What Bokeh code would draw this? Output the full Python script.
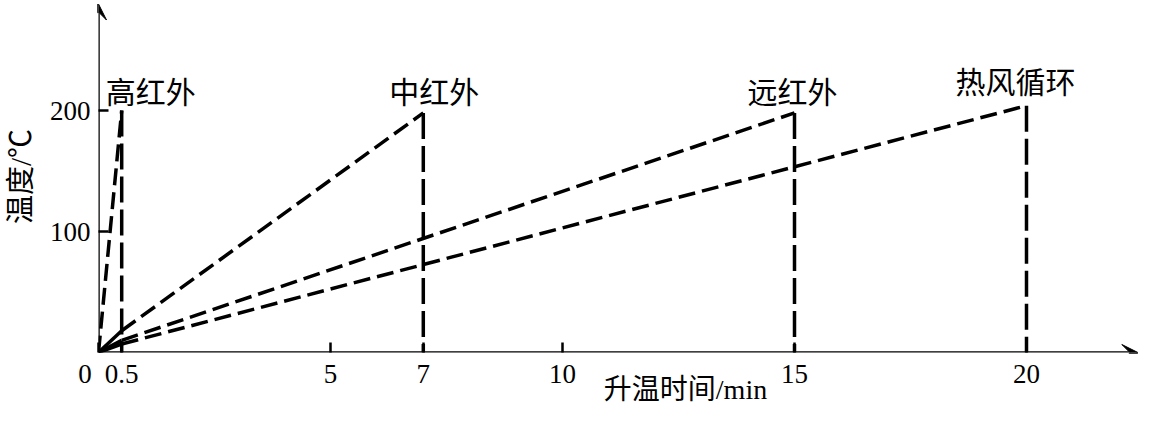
from bokeh.plotting import figure
from bokeh.models import Arrow, VeeHead, Label, FixedTicker
from bokeh.embed import file_html
from bokeh.resources import INLINE

# ---- data ----
names = ["高红外", "中红外", "远红外", "热风循环"]
x_end = [0.5, 7, 15, 20]          # heating time to reach final temperature (min)
t_end = [200, 198, 198, 204]      # final temperature (°C)
t_half = [None, 18, 10, 7]        # temperature at 0.5 min (None: no solid start)
x_ticks = [0, 0.5, 5, 7, 10, 15, 20]
y_ticks = [100, 200]
x_title = "升温时间/min"
y_title = "温度/℃"

SERIF = "Liberation Serif"
CJK = "'Liberation Serif', 'Noto Sans CJK SC'"
NB = "\u00a0"

PX_X = 46.4   # px per minute
PX_Y = 1.21   # px per degree
W, H = 1139, 408
LEFT, BOTTOM = 98, 56

p = figure(width=W, height=H,
           x_range=(0, (W - LEFT) / PX_X), y_range=(0, (H - BOTTOM) / PX_Y),
           output_backend="svg", toolbar_location=None,
           min_border_left=LEFT, min_border_right=0, min_border_top=0, min_border_bottom=BOTTOM)
p.outline_line_color = None
p.grid.visible = False
p.background_fill_color = "white"

# axes
p.xaxis.ticker = FixedTicker(ticks=x_ticks)
overrides = {t: f"{t:g}" for t in x_ticks}
overrides[0] = "0" + NB * 4
p.xaxis.major_label_overrides = overrides
p.yaxis.ticker = FixedTicker(ticks=y_ticks)
for ax in (p.xaxis, p.yaxis):
    ax.axis_line_color = None
    ax.minor_tick_line_color = None
    ax.major_tick_in = 10
    ax.major_tick_out = 0
    ax.major_tick_line_width = 2.5
    ax.major_tick_line_color = "black"
    ax.major_label_text_font = SERIF
    ax.major_label_text_font_size = "27px"
    ax.major_label_text_color = "black"
    ax.axis_label_text_font = CJK
    ax.axis_label_text_font_style = "normal"
    ax.axis_label_text_color = "black"
p.xaxis.major_label_standoff = 6
p.yaxis.major_label_standoff = 8
p.xaxis.axis_label = NB * 19 + x_title
p.xaxis.axis_label_text_font_size = "28px"
p.xaxis.axis_label_standoff = -18
p.yaxis.axis_label = y_title
p.yaxis.axis_label_text_font_size = "29px"
p.yaxis.axis_label_standoff = 10

# axis arrows
head = dict(size=16, line_color="black", fill_color="black", line_width=1)
p.add_layout(Arrow(end=VeeHead(**head), x_start=0, y_start=0, x_end=22.4, y_end=0,
                   line_width=2.5, line_color="black"))
p.add_layout(Arrow(end=VeeHead(**head), x_start=0, y_start=0, x_end=0, y_end=288,
                   line_width=2.5, line_color="black"))

# curves
lw = 3.5
for xe, te, th in zip(x_end, t_end, t_half):
    if th is None:
        p.line([0, xe], [0, te], line_width=lw, line_color="black", line_dash="17 7")
    else:
        p.line([0, 0.5], [0, th], line_width=lw, line_color="black")
        p.line([0.5, xe], [th, te], line_width=lw, line_color="black", line_dash="17 7")
    p.line([xe, xe], [te, 0], line_width=lw, line_color="black", line_dash="26 7")

# curve names
offsets = [(29, 18), (11, 20), (-2, 20), (-11, 23)]
for nm, xe, te, (dx, dy) in zip(names, x_end, t_end, offsets):
    p.add_layout(Label(x=xe, y=te, x_offset=dx, y_offset=dy, text=nm,
                       text_align="center", text_baseline="middle",
                       text_font=CJK, text_font_size="30px", text_color="black"))

open("out.html", "w").write(file_html(p, INLINE))
